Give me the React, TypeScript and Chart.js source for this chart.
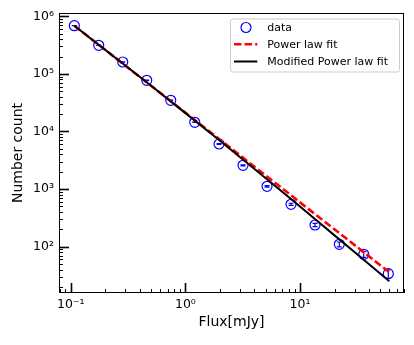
import React, { useEffect, useRef } from "react";
import { Chart, registerables } from "chart.js";

Chart.register(...registerables);

// ---- data ----
const fluxBins = [0.1075, 0.1754, 0.2842, 0.4601, 0.7452, 1.207, 1.966, 3.183, 5.154, 8.346, 13.51, 22.02, 35.94, 58.9];
const counts = [686700, 313700, 160900, 77450, 34800, 14440, 6067, 2590, 1118, 544.7, 238, 110, 73.8, 34];
const countErrors = [830, 560, 400, 280, 187, 120, 78, 51, 33, 23, 15.4, 10.5, 8.6, 5.8];

const powerFitX = [0.1075, 60.1];
const powerFitY = [686700, 36.0];

const modFitX = [0.1075, 0.4601, 1.966, 8.346, 22.02, 60.1];
const modFitY = [686700, 71450, 7093, 673, 133.9, 25.1];

const xLimits = [0.079, 80.7];
const yLimits = [15.7, 1.141e6];

const seriesLabels = ["data", "Power law fit", "Modified Power law fit"];
const xTitle = "Flux[mJy]";
const yTitle = "Number count";

const SUP: Record<string, string> = {
  "-": "\u207B", "0": "\u2070", "1": "\u00B9", "2": "\u00B2", "3": "\u00B3",
  "4": "\u2074", "5": "\u2075", "6": "\u2076", "7": "\u2077", "8": "\u2078", "9": "\u2079",
};
const toSup = (n: number) => String(n).split("").map((c) => SUP[c] ?? c).join("");
const decadeLabel = (value: number) => {
  const l = Math.log10(value);
  const r = Math.round(l);
  return Math.abs(l - r) < 1e-6 ? "10" + toSup(r) : "";
};

const FONT = "'DejaVu Sans', 'Liberation Sans', sans-serif";

// error bars (drawn under the markers/lines)
const errorBarPlugin = {
  id: "errorBars",
  beforeDatasetsDraw(chart: any) {
    const { ctx } = chart;
    const meta = chart.getDatasetMeta(0);
    const ys = chart.scales.y;
    ctx.save();
    ctx.strokeStyle = "#0000ff";
    ctx.lineWidth = 1.2;
    meta.data.forEach((pt: any, i: number) => {
      const v = counts[i];
      const e = countErrors[i];
      const y1 = ys.getPixelForValue(v + e);
      const y2 = ys.getPixelForValue(Math.max(v - e, 1e-9));
      const x = pt.x;
      ctx.beginPath();
      ctx.moveTo(x, y1);
      ctx.lineTo(x, y2);
      ctx.moveTo(x - 2.5, y1);
      ctx.lineTo(x + 2.5, y1);
      ctx.moveTo(x - 2.5, y2);
      ctx.lineTo(x + 2.5, y2);
      ctx.stroke();
    });
    ctx.restore();
  },
};

// frame, inward ticks and legend
const framePlugin = {
  id: "frame",
  afterDraw(chart: any) {
    const { ctx, chartArea: a } = chart;
    const xs = chart.scales.x;
    const ys = chart.scales.y;
    ctx.save();
    ctx.strokeStyle = "#000";
    const drawTicks = (scale: any, horizontal: boolean) => {
      const lo = Math.floor(Math.log10(scale.min));
      const hi = Math.ceil(Math.log10(scale.max));
      for (let p = lo; p <= hi; p++) {
        for (let k = 1; k <= 9; k++) {
          const v = k * Math.pow(10, p);
          if (v < scale.min || v > scale.max) continue;
          const major = k === 1;
          const len = major ? 10 : 4;
          ctx.lineWidth = major ? 1.6 : 1;
          const pix = Math.round(scale.getPixelForValue(v)) + 0.5;
          ctx.beginPath();
          if (horizontal) {
            ctx.moveTo(pix, a.bottom);
            ctx.lineTo(pix, a.bottom - len);
          } else {
            ctx.moveTo(a.left, pix);
            ctx.lineTo(a.left + len, pix);
          }
          ctx.stroke();
        }
      }
    };
    drawTicks(xs, true);
    drawTicks(ys, false);
    ctx.lineWidth = 1;
    ctx.strokeStyle = "#000";
    ctx.strokeRect(a.left + 0.5, a.top + 0.5, a.right - a.left - 1, a.bottom - a.top - 1);

    // legend
    const box = { left: a.right - 174, top: a.top + 5.5, w: 169, h: 53 };
    ctx.beginPath();
    (ctx as any).roundRect(box.left + 0.5, box.top + 0.5, box.w, box.h, 2.5);
    ctx.fillStyle = "rgba(255,255,255,0.8)";
    ctx.fill();
    ctx.strokeStyle = "#cccccc";
    ctx.lineWidth = 1;
    ctx.stroke();
    const rows = [9, 25.7, 43];
    ctx.font = `11px ${FONT}`;
    ctx.textBaseline = "middle";
    ctx.textAlign = "left";
    chart.data.datasets.forEach((ds: any, i: number) => {
      const y = box.top + rows[i];
      if (i === 0) {
        ctx.beginPath();
        ctx.arc(box.left + 16, y, 5, 0, Math.PI * 2);
        ctx.strokeStyle = ds.borderColor;
        ctx.lineWidth = ds.borderWidth;
        ctx.stroke();
      } else {
        ctx.beginPath();
        ctx.setLineDash(ds.borderDash || []);
        ctx.moveTo(box.left + 4, y);
        ctx.lineTo(box.left + 27.3, y);
        ctx.strokeStyle = ds.borderColor;
        ctx.lineWidth = ds.borderWidth;
        ctx.stroke();
        ctx.setLineDash([]);
      }
      ctx.fillStyle = "#000";
      ctx.fillText(ds.label, box.left + 37.3, y + 0.5);
    });
    ctx.restore();
  },
};

export default function App() {
  const canvasRef = useRef<HTMLCanvasElement | null>(null);

  useEffect(() => {
    if (!canvasRef.current) return;
    const chart = new Chart(canvasRef.current, {
      type: "scatter",
      data: {
        datasets: [
          {
            label: seriesLabels[0],
            data: fluxBins.map((x, i) => ({ x, y: counts[i] })),
            showLine: false,
            pointStyle: "circle",
            pointRadius: 5,
            borderColor: "#0000ff",
            backgroundColor: "rgba(0,0,0,0)",
            borderWidth: 1.2,
            order: 3,
          },
          {
            label: seriesLabels[1],
            data: powerFitX.map((x, i) => ({ x, y: powerFitY[i] })),
            showLine: true,
            pointRadius: 0,
            borderColor: "#ff0000",
            backgroundColor: "#ff0000",
            borderWidth: 2.6,
            borderDash: [7.4, 3.2],
            order: 2,
          },
          {
            label: seriesLabels[2],
            data: modFitX.map((x, i) => ({ x, y: modFitY[i] })),
            showLine: true,
            pointRadius: 0,
            borderColor: "#000000",
            backgroundColor: "#000000",
            borderWidth: 2,
            tension: 0.3,
            order: 1,
          },
        ],
      },
      options: {
        responsive: false,
        animation: false,
        layout: { autoPadding: false, padding: { left: 0, top: 5, right: 2, bottom: 0 } },
        plugins: {
          legend: { display: false },
          tooltip: { enabled: false },
        },
        scales: {
          x: {
            type: "logarithmic",
            min: xLimits[0],
            max: xLimits[1],
            bounds: "data",
            grid: { display: false, drawTicks: false },
            border: { display: false },
            ticks: {
              autoSkip: false,
              maxRotation: 0,
              minRotation: 0,
              padding: 4,
              color: "#000",
              font: { family: FONT, size: 12.5 },
              callback: (v: any) => decadeLabel(Number(v)),
            },
            title: {
              display: true,
              text: xTitle,
              color: "#000",
              font: { family: FONT, size: 14 },
              padding: { top: 0, bottom: 6.6 },
            },
            afterFit: (s: any) => {
              s.height = 44;
              s.paddingLeft = 0;
              s.paddingRight = 0;
              s.paddingTop = 0;
              s.paddingBottom = 0;
            },
          },
          y: {
            type: "logarithmic",
            min: yLimits[0],
            max: yLimits[1],
            bounds: "data",
            grid: { display: false, drawTicks: false },
            border: { display: false },
            ticks: {
              autoSkip: false,
              padding: 5,
              color: "#000",
              font: { family: FONT, size: 12.5 },
              callback: (v: any) => decadeLabel(Number(v)),
            },
            title: {
              display: true,
              text: yTitle,
              color: "#000",
              font: { family: FONT, size: 14 },
              padding: { top: 1.6, bottom: 0 },
            },
            afterFit: (s: any) => {
              s.width = 51;
              s.paddingLeft = 0;
              s.paddingRight = 0;
              s.paddingTop = 0;
              s.paddingBottom = 0;
            },
          },
        },
      },
      plugins: [errorBarPlugin, framePlugin],
    } as any);
    return () => chart.destroy();
  }, []);

  return (
    <div style={{ width: 398, height: 329 }}>
      <canvas ref={canvasRef} width={398} height={329} style={{ display: "block" }} />
    </div>
  );
}
